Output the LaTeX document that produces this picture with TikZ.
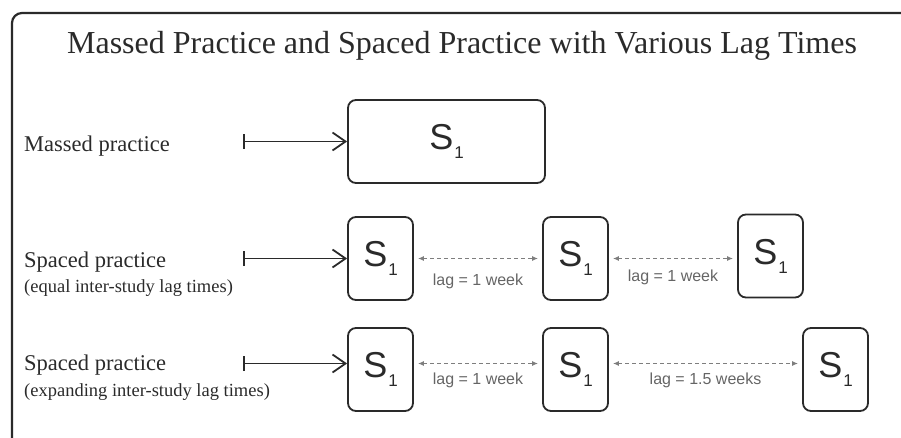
\documentclass[tikz,border=0pt]{standalone}
\usepackage{fontspec}
\setmainfont{Liberation Serif}
\setsansfont{Liberation Sans}
\usetikzlibrary{arrows.meta}
\definecolor{ink}{HTML}{2A2A2A}
\definecolor{lagc}{HTML}{7E7E7E}
\tikzset{
  frm/.style={draw=ink,line width=2.2pt,rounded corners=10pt},
  sbox/.style={draw=ink,line width=1.8pt,rounded corners=8pt,minimum width=65pt,minimum height=83pt,inner sep=0pt,font=\sffamily,text=ink},
  entry/.style={draw=ink,line width=1.8pt,{Bar[width=15pt]}-{Straight Barb[length=13pt,width=18pt]}},
  lag/.style={draw=lagc,line width=1.2pt,dash pattern=on 4pt off 3pt,{Latex[length=6pt,width=5pt]}-{Latex[length=6pt,width=5pt]},shorten <=4pt,shorten >=4pt},
  lagtxt/.style={font=\sffamily\fontsize{16}{16}\selectfont,text=lagc!80!black,inner sep=0pt},
  rowtxt/.style={anchor=base west,inner sep=0pt,text=ink}
}
\newcommand{\sone}{{\fontsize{36}{36}\selectfont S}\hspace{1pt}\raisebox{-9pt}{\fontsize{17}{17}\selectfont 1}}

\begin{document}
\begin{tikzpicture}[x=1pt,y=-1pt]
\useasboundingbox (0,0) rectangle (901,438);
\clip (0,0) rectangle (901,438);
\draw[frm] (12,13) rectangle (930,470);
\node[anchor=base,inner sep=0pt,text=ink,font=\fontsize{32}{32}\selectfont] (title) at (462,54) {Massed Practice and Spaced Practice with Various Lag Times};

% row 1: massed
\node[rowtxt,font=\fontsize{22.5}{22.5}\selectfont] (mtxt) at (24,152) {Massed practice};
\node[sbox,minimum width=197pt] (massed) at (446.5,141.5) {\sone};
\coordinate (tailm) at (243,141.5);
\draw[entry] (tailm) -- (massed.west);

% row 2: spaced, equal lags
\node[rowtxt,font=\fontsize{22.5}{22.5}\selectfont] (etxt) at (24,267) {Spaced practice};
\node[rowtxt,font=\fontsize{18.5}{18.5}\selectfont] (etxt2) at (24,292) {(equal inter-study lag times)};
\node[sbox] (eq1) at (380.5,258.5) {\sone};
\node[sbox] (eq2) at (575.5,258.5) {\sone};
\node[sbox] (eq3) at (770.5,256) {\sone};
\coordinate (taile) at (243,258.5);
\draw[entry] (taile) -- (eq1.west);
\draw[lag] (eq1.east) -- node[lagtxt,below=15pt] (lage1) {lag = 1 week} (eq2.west);
\draw[lag] (eq2.east) -- node[lagtxt,below=11pt] (lage2) {lag = 1 week} (eq2.east -| eq3.west);

% row 3: spaced, expanding lags
\node[rowtxt,font=\fontsize{22.5}{22.5}\selectfont] (xtxt) at (24,370) {Spaced practice};
\node[rowtxt,font=\fontsize{18.5}{18.5}\selectfont] (xtxt2) at (24,396) {(expanding inter-study lag times)};
\node[sbox] (ex1) at (380.5,369.5) {\sone};
\node[sbox] (ex2) at (575.5,369.5) {\sone};
\node[sbox] (ex3) at (835.5,369.5) {\sone};
\coordinate (tailx) at (243,363.5);
\draw[entry] (tailx) -- (tailx -| ex1.west);
\draw[lag] ([yshift=6pt]ex1.east) -- node[lagtxt,below=9pt] (lagx1) {lag = 1 week} ([yshift=6pt]ex2.west);
\draw[lag] ([yshift=6pt]ex2.east) -- node[lagtxt,below=9pt] (lagx2) {lag = 1.5 weeks} ([yshift=6pt]ex3.west);
\end{tikzpicture}
\end{document}
